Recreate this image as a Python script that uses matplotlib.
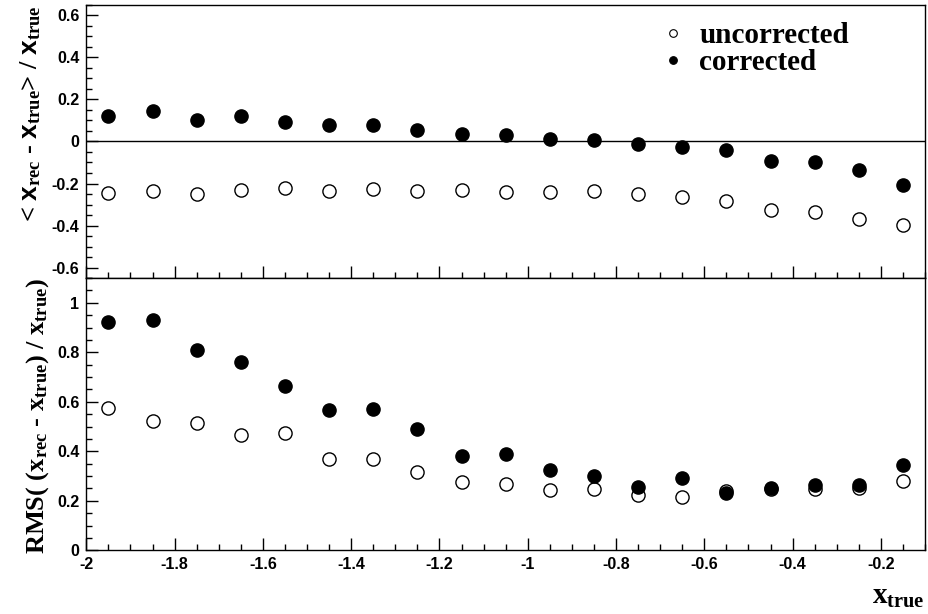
import numpy as np
import matplotlib
matplotlib.use("Agg")
import matplotlib.pyplot as plt
from matplotlib.ticker import MultipleLocator
from matplotlib.lines import Line2D

# fonts: ROOT-like look (Helvetica bold ticks, Times bold titles)
plt.rcParams['mathtext.fontset'] = 'custom'
plt.rcParams['mathtext.rm'] = 'Liberation Serif:bold'
plt.rcParams['mathtext.it'] = 'Liberation Serif:bold'
plt.rcParams['mathtext.bf'] = 'Liberation Serif:bold'
plt.rcParams['mathtext.sf'] = 'Liberation Sans:bold'

# bin centres of x_true
x_true = [-1.95, -1.85, -1.75, -1.65, -1.55, -1.45, -1.35, -1.25, -1.15, -1.05,
          -0.95, -0.85, -0.75, -0.65, -0.55, -0.45, -0.35, -0.25, -0.15]

# mean relative bias
bias_uncorr = [-0.245, -0.238, -0.252, -0.231, -0.223, -0.234, -0.225, -0.236, -0.229, -0.241,
               -0.241, -0.238, -0.250, -0.266, -0.284, -0.327, -0.337, -0.369, -0.398]
bias_corr = [0.123, 0.147, 0.101, 0.123, 0.093, 0.078, 0.080, 0.056, 0.038, 0.030,
             0.011, 0.006, -0.011, -0.024, -0.040, -0.095, -0.100, -0.135, -0.205]

# RMS of relative deviation
rms_uncorr = [0.576, 0.523, 0.513, 0.464, 0.474, 0.368, 0.367, 0.316, 0.275, 0.266,
              0.245, 0.248, 0.224, 0.217, 0.240, 0.248, 0.248, 0.251, 0.281]
rms_corr = [0.923, 0.931, 0.810, 0.761, 0.662, 0.565, 0.572, 0.490, 0.380, 0.389,
            0.326, 0.300, 0.255, 0.293, 0.231, 0.252, 0.264, 0.264, 0.343]

yt1 = [-0.6, -0.4, -0.2, 0, 0.2, 0.4, 0.6]
yt1_labels = ['-0.6', '-0.4', '-0.2', '0', '0.2', '0.4', '0.6']
yt2 = [0, 0.2, 0.4, 0.6, 0.8, 1.0]
yt2_labels = ['0', '0.2', '0.4', '0.6', '0.8', '1']
xt = [-2, -1.8, -1.6, -1.4, -1.2, -1, -0.8, -0.6, -0.4, -0.2]
xt_labels = ['-2', '-1.8', '-1.6', '-1.4', '-1.2', '-1', '-0.8', '-0.6', '-0.4', '-0.2']

fig = plt.figure(figsize=(9.29, 6.14), dpi=100)
L, R = 0.0929, 0.9957
ax1 = fig.add_axes([L, 0.5472, R - L, 0.9919 - 0.5472])
ax2 = fig.add_axes([L, 0.1038, R - L, 0.5472 - 0.1038])

ms = 9.5
tick_font = {'family': 'Liberation Sans', 'weight': 'bold', 'size': 11.5}
for ax, yu, yc in [(ax1, bias_uncorr, bias_corr), (ax2, rms_uncorr, rms_corr)]:
    ax.plot(x_true, yu, 'o', ms=ms, mfc='white', mec='black', mew=1.0, ls='none', zorder=3)
    ax.plot(x_true, yc, 'o', ms=ms, mfc='black', mec='black', mew=1.0, ls='none', zorder=4)
    ax.set_xlim(-2, -0.1)
    ax.set_xticks(xt)
    ax.set_xticklabels(xt_labels, fontdict=tick_font)
    ax.xaxis.set_minor_locator(MultipleLocator(0.05))
    ax.yaxis.set_minor_locator(MultipleLocator(0.05))
    ax.tick_params(which='both', direction='in', top=False, right=False, width=1.0)
    ax.tick_params(which='major', length=8.5, pad=5)
    ax.tick_params(which='minor', length=4.3)
    for sp in ax.spines.values():
        sp.set_linewidth(1.0)

ax1.axhline(0, color='black', lw=1.0, zorder=2)
ax1.set_ylim(-0.65, 0.65)
ax1.set_yticks(yt1)
ax1.set_yticklabels(yt1_labels, fontdict=tick_font)
ax1.tick_params(axis='x', labelbottom=False)
ax1.set_ylabel(r'< $\mathsf{x}_{rec}$ - $\mathsf{x}_{true}$> / $\mathsf{x}_{true}$',
               fontsize=19, family='Liberation Serif', fontweight='bold', loc='top', labelpad=6)

ax2.set_ylim(0, 1.1)
ax2.set_yticks(yt2)
ax2.set_yticklabels(yt2_labels, fontdict=tick_font)
ax2.set_ylabel(r'RMS( (x$_{rec}$ - x$_{true}$) / x$_{true}$)',
               fontsize=19, family='Liberation Serif', fontweight='bold', loc='top', labelpad=4)
ax2.set_xlabel(r'x$_{true}$', fontsize=21, family='Liberation Serif', fontweight='bold',
               loc='right', labelpad=8)

handles = [Line2D([], [], marker='o', ls='none', ms=5.5, mfc='white', mec='black', mew=0.8),
           Line2D([], [], marker='o', ls='none', ms=5.5, mfc='black', mec='black', mew=0.8)]
ax1.legend(handles, ['uncorrected', 'corrected'], loc='upper right',
           bbox_to_anchor=(0.93, 1.0), frameon=False, handlelength=0.8,
           handletextpad=0.5, labelspacing=0.0, borderaxespad=0.2,
           prop={'family': 'Liberation Serif', 'weight': 'bold', 'size': 21})

fig.savefig('out.png', dpi=100)
